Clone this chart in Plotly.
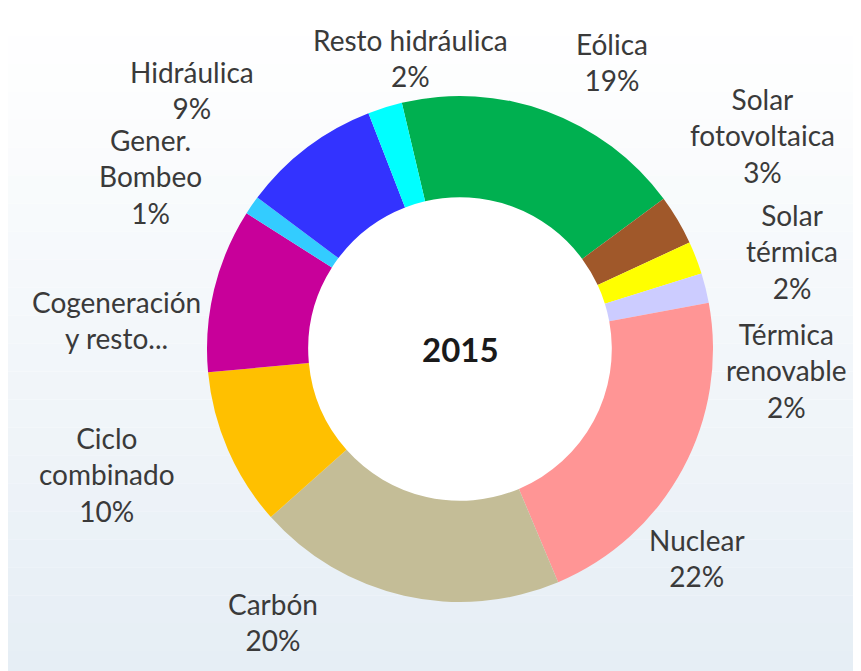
import plotly.graph_objects as go

# ---- data ----
categories = ["Eólica", "Solar fotovoltaica", "Solar térmica", "Térmica renovable",
              "Nuclear", "Carbón", "Ciclo combinado", "Cogeneración y resto",
              "Gener. Bombeo", "Hidráulica", "Resto hidráulica"]
shares = [18.6, 3.2, 2.1, 1.9, 21.6, 19.8, 10.1, 10.5, 1.2, 8.9, 2.2]
label_lines = ["Eólica", "Solar<br>fotovoltaica", "Solar<br>térmica", "Térmica<br>renovable",
               "Nuclear", "Carbón", "Ciclo<br>combinado", "Cogeneración<br>y resto...",
               "Gener.<br>Bombeo", "Hidráulica", "Resto hidráulica"]
show_pct = [True, True, True, True, True, True, True, False, True, True, True]
center_text = "2015"

# ---- styles / layout ----
colors = ["#00b050", "#a0582a", "#ffff00", "#ccccff", "#ff9595", "#c4bd97",
          "#ffc000", "#c8009a", "#33ccff", "#3333ff", "#00ffff"]
W, H = 861, 671
OFF = 8  # page body margin in the browser
CX, CY, R = 460, 349, 253
HOLE = 0.60
FONT = 28
# label block centres (page pixels) per category
label_pos = [(612, 62), (762, 135), (792, 251), (786, 370), (697, 558), (273, 622),
             (107, 475), (117, 320), (150, 177), (192, 90), (410, 58)]


def px2x(px):
    return (px - OFF) / W


def py2y(py):
    return 1 - (py - OFF) / H


fig = go.Figure()
fig.add_trace(go.Pie(
    labels=categories, values=shares, sort=False, direction="clockwise",
    rotation=-13.3, hole=HOLE, textinfo="none", hoverinfo="label+percent",
    marker=dict(colors=colors, line=dict(width=0)),
    domain=dict(x=[px2x(CX - R), px2x(CX + R)], y=[py2y(CY + R), py2y(CY - R)]),
    showlegend=False,
))

total = sum(shares)
annotations = []
for lab, v, sp, (px, py) in zip(label_lines, shares, show_pct, label_pos):
    txt = lab + (f"<br>{round(v / total * 100)}%" if sp else "")
    annotations.append(dict(
        x=px2x(px), y=py2y(py), xref="paper", yref="paper", text=txt, showarrow=False,
        xanchor="center", yanchor="middle", align="center",
        font=dict(family="Lato", size=FONT, color="#3a3a3a"),
    ))
annotations.append(dict(
    x=px2x(CX), y=py2y(CY), xref="paper", yref="paper", text=f"<b>{center_text}</b>",
    showarrow=False, xanchor="center", yanchor="middle",
    font=dict(family="Lato", size=33, color="#1a1a1a"),
))

# background: soft vertical gradient + white hole
shapes = []
n = 24
top = (255, 255, 255)
bot = (230, 238, 245)
for i in range(n):
    t = i / (n - 1)
    c = tuple(round(top[k] + (bot[k] - top[k]) * t) for k in range(3))
    shapes.append(dict(type="rect", xref="paper", yref="paper", layer="below",
                       x0=0, x1=1, y0=1 - (i + 1) / n, y1=1 - i / n,
                       fillcolor=f"rgb{c}", line=dict(width=0)))
rh = R * HOLE + 2
shapes.append(dict(type="circle", xref="paper", yref="paper", layer="below",
                   x0=px2x(CX - rh), x1=px2x(CX + rh),
                   y0=py2y(CY + rh), y1=py2y(CY - rh),
                   fillcolor="#ffffff", line=dict(width=0)))

fig.update_layout(
    width=W, height=H, margin=dict(l=0, r=0, t=0, b=0),
    paper_bgcolor="#ffffff", plot_bgcolor="rgba(0,0,0,0)",
    annotations=annotations, shapes=shapes,
)
fig.write_html("out.html")
